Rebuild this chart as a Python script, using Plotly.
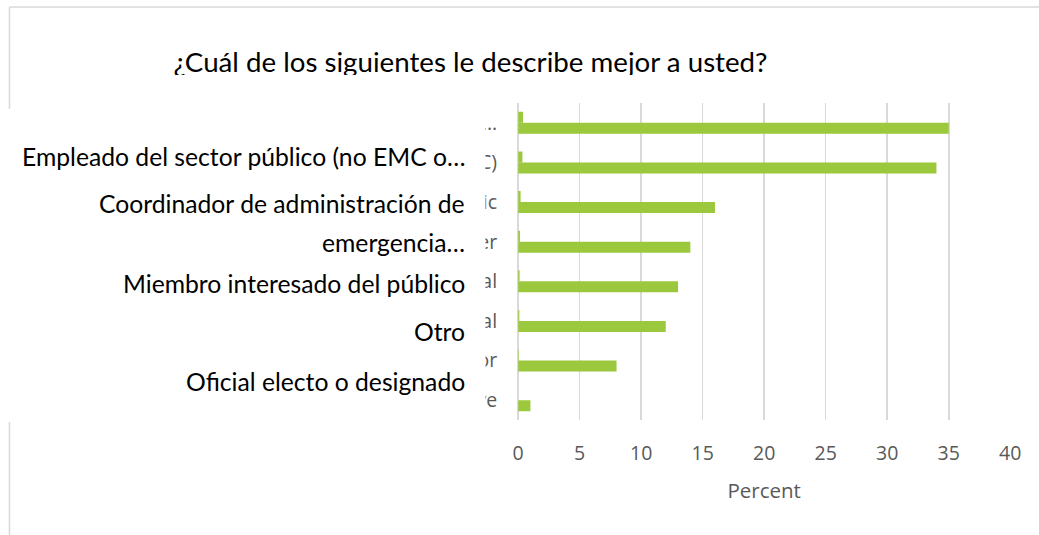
import plotly.graph_objects as go

# ---------------- data ----------------
categories = [
    "Emergency management coordinator or…",
    "Public sector employee (not EM or EMC)",
    "Interested member of the public",
    "Other",
    "Elected or appointed official",
    "Emergency management professional",
    "Private sector",
    "None of the above",
]
minor_values = [0.4, 0.35, 0.2, 0.15, 0.12, 0.1, 0.05, 0]
percent_values = [35, 34, 16, 14, 13, 12, 8, 1]
x_ticks = [0, 5, 10, 15, 20, 25, 30, 35, 40]

title_text = "¿Cuál de los siguientes le describe mejor a usted?"
x_title = "Percent"
spanish_labels = [
    "Empleado del sector público (no EMC o…",
    "Coordinador de administración de",
    "emergencia…",
    "Miembro interesado del público",
    "Otro",
    "Oficial electo o designado",
]
spanish_label_y_px = [157, 203, 242, 283, 331, 381]

# ---------------- layout helpers ----------------
W, H = 1055, 535
XS, XO = 0.985, 4.0   # horizontal correction observed in the rendered page

def px(x):
    return ((x - XO) / XS) / W

def py(y):
    return 1 - y / H

GREEN = "#9BC83D"
GRID = "#D9D9D9"
GRAY = "#595959"

fig = go.Figure()
fig.add_trace(go.Bar(
    y=categories, x=minor_values, orientation="h", name="Series 1",
    marker=dict(color=GREEN, line=dict(width=0)), hoverinfo="skip",
))
fig.add_trace(go.Bar(
    y=categories, x=percent_values, orientation="h", name="Percent",
    marker=dict(color=GREEN, line=dict(width=0)),
))

# title rendered as clipped text in its own (hidden) subplot
fig.add_trace(go.Scatter(
    x=[px(469) * W], y=[65], text=[title_text], mode="text",
    textposition="middle center",
    textfont=dict(family="Lato", size=27.7, color="#000000"),
    xaxis="x2", yaxis="y2", cliponaxis=True, hoverinfo="skip", showlegend=False,
))

fig.update_layout(
    width=W, height=H,
    margin=dict(l=0, r=0, t=0, b=0),
    paper_bgcolor="white", plot_bgcolor="white",
    showlegend=False,
    barmode="group", bargap=0.445, bargroupgap=0,
    xaxis=dict(
        domain=[px(516.7), px(1009.4)], range=[0, 40],
        tickvals=x_ticks, ticks="",
        showgrid=True, gridcolor=GRID, gridwidth=1.5,
        zeroline=True, zerolinecolor=GRID, zerolinewidth=1.5,
        showline=False, fixedrange=True,
        tickfont=dict(family="Open Sans", size=19.5, color=GRAY),
        ticklabelstandoff=19,
        title=dict(text=x_title, font=dict(family="Open Sans", size=20.5, color=GRAY), standoff=19),
    ),
    yaxis=dict(
        domain=[py(420), py(103)], type="category", autorange="reversed",
        ticks="", showgrid=False, zeroline=False, showline=False,
        tickfont=dict(family="Open Sans", size=19.5, color=GRAY),
        ticklabelstandoff=20, fixedrange=True,
    ),
    xaxis2=dict(domain=[0, 1], range=[0, W], visible=False, anchor="y2", fixedrange=True),
    yaxis2=dict(domain=[py(75), 1], range=[75, 0], visible=False, anchor="x2", fixedrange=True),
)

# chart border (top and left visible), then the white label box over it
shapes = [
    dict(type="line", xref="paper", yref="paper", x0=px(7.5), x1=1.0, y0=py(7), y1=py(7),
         line=dict(color=GRID, width=1.5), layer="above"),
    dict(type="line", xref="paper", yref="paper", x0=px(7.5), x1=px(7.5), y0=py(7), y1=0,
         line=dict(color=GRID, width=1.5), layer="above"),
    dict(type="rect", xref="paper", yref="paper", x0=0, x1=px(484), y0=py(422), y1=py(109),
         fillcolor="white", line=dict(width=0), layer="above"),
]
fig.update_layout(shapes=shapes)

for txt, ypix in zip(spanish_labels, spanish_label_y_px):
    fig.add_annotation(
        text=txt, xref="paper", yref="paper", x=px(465.5), y=py(ypix),
        xanchor="right", yanchor="middle", showarrow=False,
        font=dict(family="Lato", size=24.7, color="#000000"),
    )

fig.write_html(
    "out.html",
    config={"displayModeBar": False, "staticPlot": True},
    post_script=(
        "document.documentElement.style.margin='0';"
        "document.body.style.margin='0';"
        "document.body.style.padding='0';"
        "document.documentElement.style.overflow='hidden';"
        "document.body.style.overflow='hidden';"
    ),
)
